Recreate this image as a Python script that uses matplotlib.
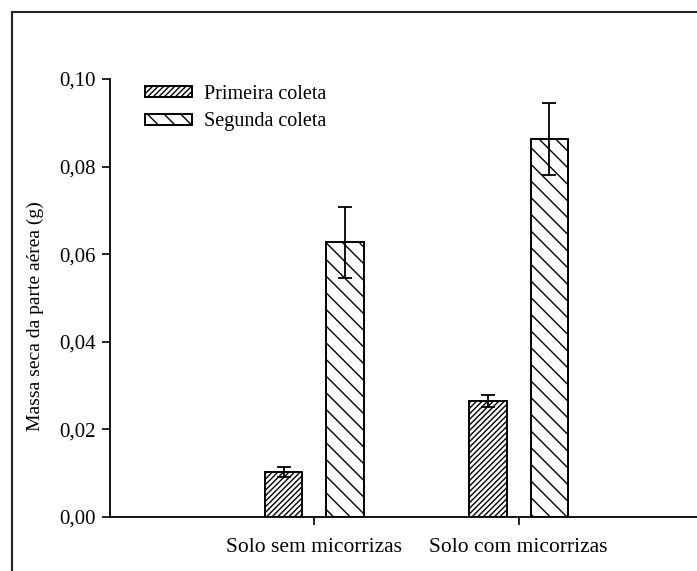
import matplotlib
matplotlib.use('Agg')
import matplotlib.pyplot as plt
from matplotlib.patches import Rectangle
from matplotlib.ticker import FuncFormatter
import numpy as np

categories = ['Solo sem micorrizas', 'Solo com micorrizas']
primeira = [0.0103, 0.0265]
primeira_err = [0.0012, 0.0014]
segunda = [0.0627, 0.0863]
segunda_err = [0.0081, 0.0083]
series_labels = ['Primeira coleta', 'Segunda coleta']

plt.rcParams['font.family'] = ['Liberation Serif', 'DejaVu Serif']
plt.rcParams['hatch.linewidth'] = 1.0

fig = plt.figure(figsize=(6.97, 5.71), dpi=100)
ax = fig.add_axes([110 / 697, 54 / 571, 613 / 697, 438 / 571])

x = np.arange(len(categories))
width = 0.184
offset = 0.15
err_kw = dict(ecolor='black', elinewidth=1.3, capsize=5, capthick=1.3)

ax.bar(x - offset, primeira, width, yerr=primeira_err, color='white', edgecolor='black',
       linewidth=1.4, hatch='//////', label=series_labels[0], error_kw=err_kw)
ax.bar(x + offset, segunda, width, yerr=segunda_err, color='white', edgecolor='black',
       linewidth=1.4, hatch='\\\\', label=series_labels[1], error_kw=err_kw)

ax.set_xlim(-1, 2)
ax.set_ylim(0, 0.10)
ax.set_yticks([0, 0.02, 0.04, 0.06, 0.08, 0.10])
ax.yaxis.set_major_formatter(FuncFormatter(lambda v, p: f'{v:.2f}'.replace('.', ',')))
ax.set_xticks(x)
ax.set_xticklabels(categories)
ax.tick_params(axis='both', labelsize=15, length=6, width=1.2, colors='black')
ax.tick_params(axis='x', labelsize=15.5, pad=9)
ax.tick_params(axis='y', pad=4)

ax.spines['top'].set_visible(False)
ax.spines['right'].set_visible(False)
ax.spines['left'].set_linewidth(1.3)
ax.spines['bottom'].set_linewidth(1.3)

ax.set_ylabel('Massa seca da parte aérea (g)', fontsize=14)
ax.yaxis.set_label_coords(-0.108, 0.459)

ax.legend(loc='upper left', bbox_to_anchor=(145 / 697, 1 - 85 / 571),
          bbox_transform=fig.transFigure, frameon=False, fontsize=14.5,
          borderpad=0, borderaxespad=0, handlelength=2.35, handleheight=0.45,
          handletextpad=0.6, labelspacing=0.42)

# outer frame around the figure
fig.add_artist(Rectangle((12 / 697, -0.1), 1.2, 1 - 12 / 571 + 0.1, transform=fig.transFigure,
                         fill=False, edgecolor='#222222', linewidth=1.5))

fig.savefig('out.png', dpi=100)
